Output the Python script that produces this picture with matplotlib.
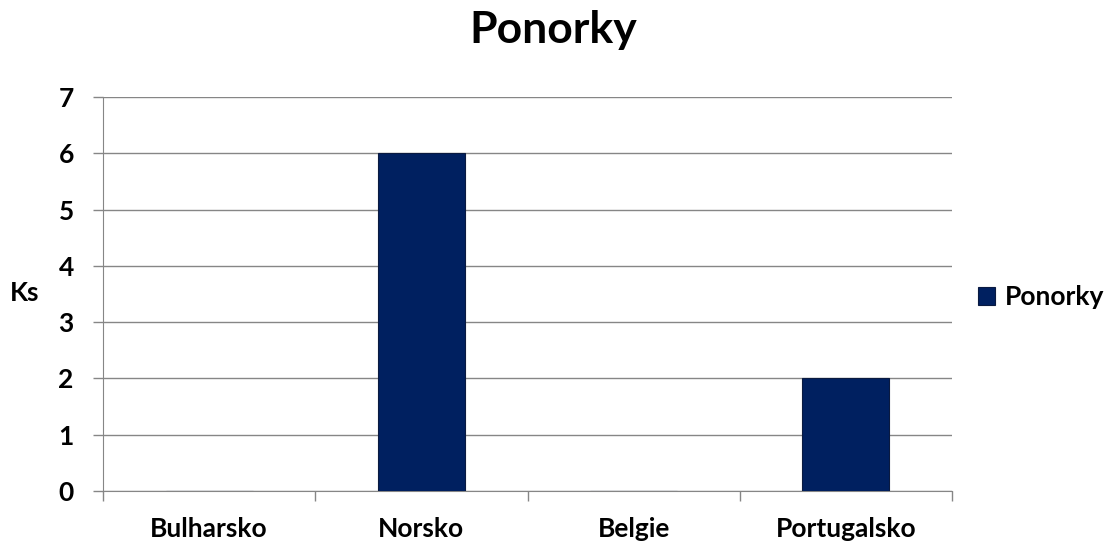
import matplotlib.pyplot as plt
import numpy as np

countries = ['Bulharsko', 'Norsko', 'Belgie', 'Portugalsko']
ponorky = [0, 6, 0, 2]
yticks = [0, 1, 2, 3, 4, 5, 6, 7]

plt.rcParams['font.family'] = ['Lato', 'DejaVu Sans']
plt.rcParams['font.weight'] = 'bold'

fig = plt.figure(figsize=(11.1, 5.42), dpi=100)
ax = fig.add_axes([0.0928, 0.0941, 0.7649, 0.727])

x = np.arange(len(countries))
ax.bar(x, ponorky, width=0.41, color='#002060', edgecolor='#0a1a40', linewidth=0.8,
       label='Ponorky', zorder=3)

ax.set_xlim(-0.5, len(countries) - 0.5)
ax.set_ylim(0, 7)
ax.set_yticks(yticks)
ax.grid(True, axis='y', color='#868686', linewidth=1.0, zorder=0)

ax.set_xticks(x)
ax.set_xticklabels(countries, fontsize=19, fontweight='bold')
ax.set_xticks(np.arange(-0.5, len(countries)), minor=True)
ax.tick_params(axis='x', which='major', length=0, pad=19)
ax.tick_params(axis='x', which='minor', length=7, color='#868686', width=1.0)
ax.tick_params(axis='y', length=7, color='#868686', width=1.0, labelsize=19, pad=14)
for lbl in ax.get_yticklabels():
    lbl.set_fontweight('bold')

for s in ['top', 'right']:
    ax.spines[s].set_visible(False)
ax.spines['left'].set_color('#868686')
ax.spines['bottom'].set_color('#868686')

fig.text(25 / 1110, 1 - 293 / 542, 'Ks', fontsize=19, fontweight='bold', ha='center', va='center')
fig.text(553 / 1110, 1 - 30 / 542, 'Ponorky', fontsize=32, fontweight='bold', ha='center', va='center')

fig.legend(loc='center left', bbox_to_anchor=(978 / 1110, 1 - 297 / 542), frameon=False,
           fontsize=19, handlelength=0.65, handleheight=0.65, handletextpad=0.35,
           borderpad=0, borderaxespad=0)

plt.savefig('out.png', dpi=100)
